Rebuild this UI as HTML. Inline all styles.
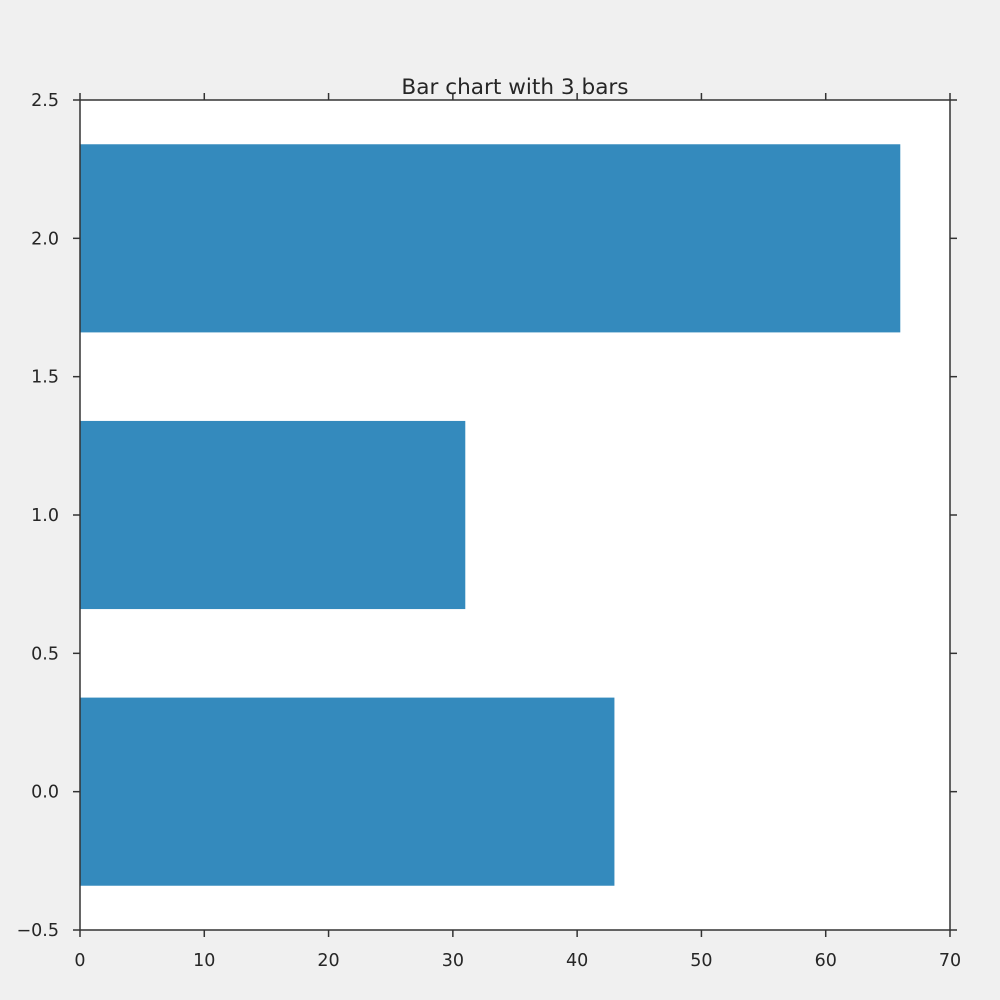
<!DOCTYPE html>
<html><head><meta charset="utf-8"><style>
body{margin:0;background:#f0f0f0;}
svg{display:block;font-family:"DejaVu Sans","Liberation Sans",sans-serif;}
</style></head><body>
<svg id="chart" width="1000" height="1000">
<rect x="0" y="0" width="1000" height="1000" fill="#f0f0f0"/>
<rect x="80" y="100" width="870" height="830" fill="#ffffff"/>
<g id="bars"></g>
<g id="axes"></g>
<text x="515" y="94" text-anchor="middle" font-size="21.6" fill="#262626">Bar chart with 3 bars</text>
</svg>
<script>
const categories = [0, 1, 2];
const values = [43, 31, 66];
const xTicks = [0, 10, 20, 30, 40, 50, 60, 70];
const yTicks = [-0.5, 0, 0.5, 1, 1.5, 2, 2.5];
const yTickLabels = ["\u22120.5", "0.0", "0.5", "1.0", "1.5", "2.0", "2.5"];
const barHeight = 0.68;

const L = 80, R = 950, T = 100, B = 930;
const xMin = 0, xMax = 70, yMin = -0.5, yMax = 2.5;
const xs = v => L + (v - xMin) / (xMax - xMin) * (R - L);
const ys = v => B - (v - yMin) / (yMax - yMin) * (B - T);
const NS = "http://www.w3.org/2000/svg";
const bars = document.getElementById('bars');
const axes = document.getElementById('axes');

categories.forEach((c, i) => {
  const r = document.createElementNS(NS, 'rect');
  const y0 = ys(c + barHeight / 2), y1 = ys(c - barHeight / 2);
  r.setAttribute('x', xs(0));
  r.setAttribute('y', y0);
  r.setAttribute('width', xs(values[i]) - xs(0));
  r.setAttribute('height', y1 - y0);
  r.setAttribute('fill', '#348abd');
  
  
  bars.appendChild(r);
});

function line(x1, y1, x2, y2) {
  const l = document.createElementNS(NS, 'line');
  l.setAttribute('x1', x1); l.setAttribute('y1', y1);
  l.setAttribute('x2', x2); l.setAttribute('y2', y2);
  l.setAttribute('stroke', '#333'); l.setAttribute('stroke-width', '1.5');
  axes.appendChild(l);
  return l;
}
function text(x, y, s, anchor) {
  const t = document.createElementNS(NS, 'text');
  t.setAttribute('x', x); t.setAttribute('y', y);
  t.setAttribute('text-anchor', anchor);
  t.setAttribute('font-size', '17.5');
  t.setAttribute('fill', '#262626');
  t.textContent = s;
  axes.appendChild(t);
  return t;
}
const frame = document.createElementNS(NS, 'rect');
frame.setAttribute('x', L); frame.setAttribute('y', T);
frame.setAttribute('width', R - L); frame.setAttribute('height', B - T);
frame.setAttribute('fill', 'none'); frame.setAttribute('stroke', '#333'); frame.setAttribute('stroke-width', '1.5');


axes.appendChild(frame);

xTicks.forEach(v => {
  const x = xs(v);
  const a = line(x, B, x, B + 7);
  
  
  const b = line(x, T, x, T - 7);
  
  
  const t = text(x, B + 36, String(v), 'middle');
  
  
});
yTicks.forEach((v, i) => {
  const y = ys(v);
  const a = line(L, y, L - 7, y);
  
  
  const b = line(R, y, R + 7, y);
  
  
  const t = text(L - 21, y + 6, yTickLabels[i], 'end');
  
  
});
</script>
</body></html>
